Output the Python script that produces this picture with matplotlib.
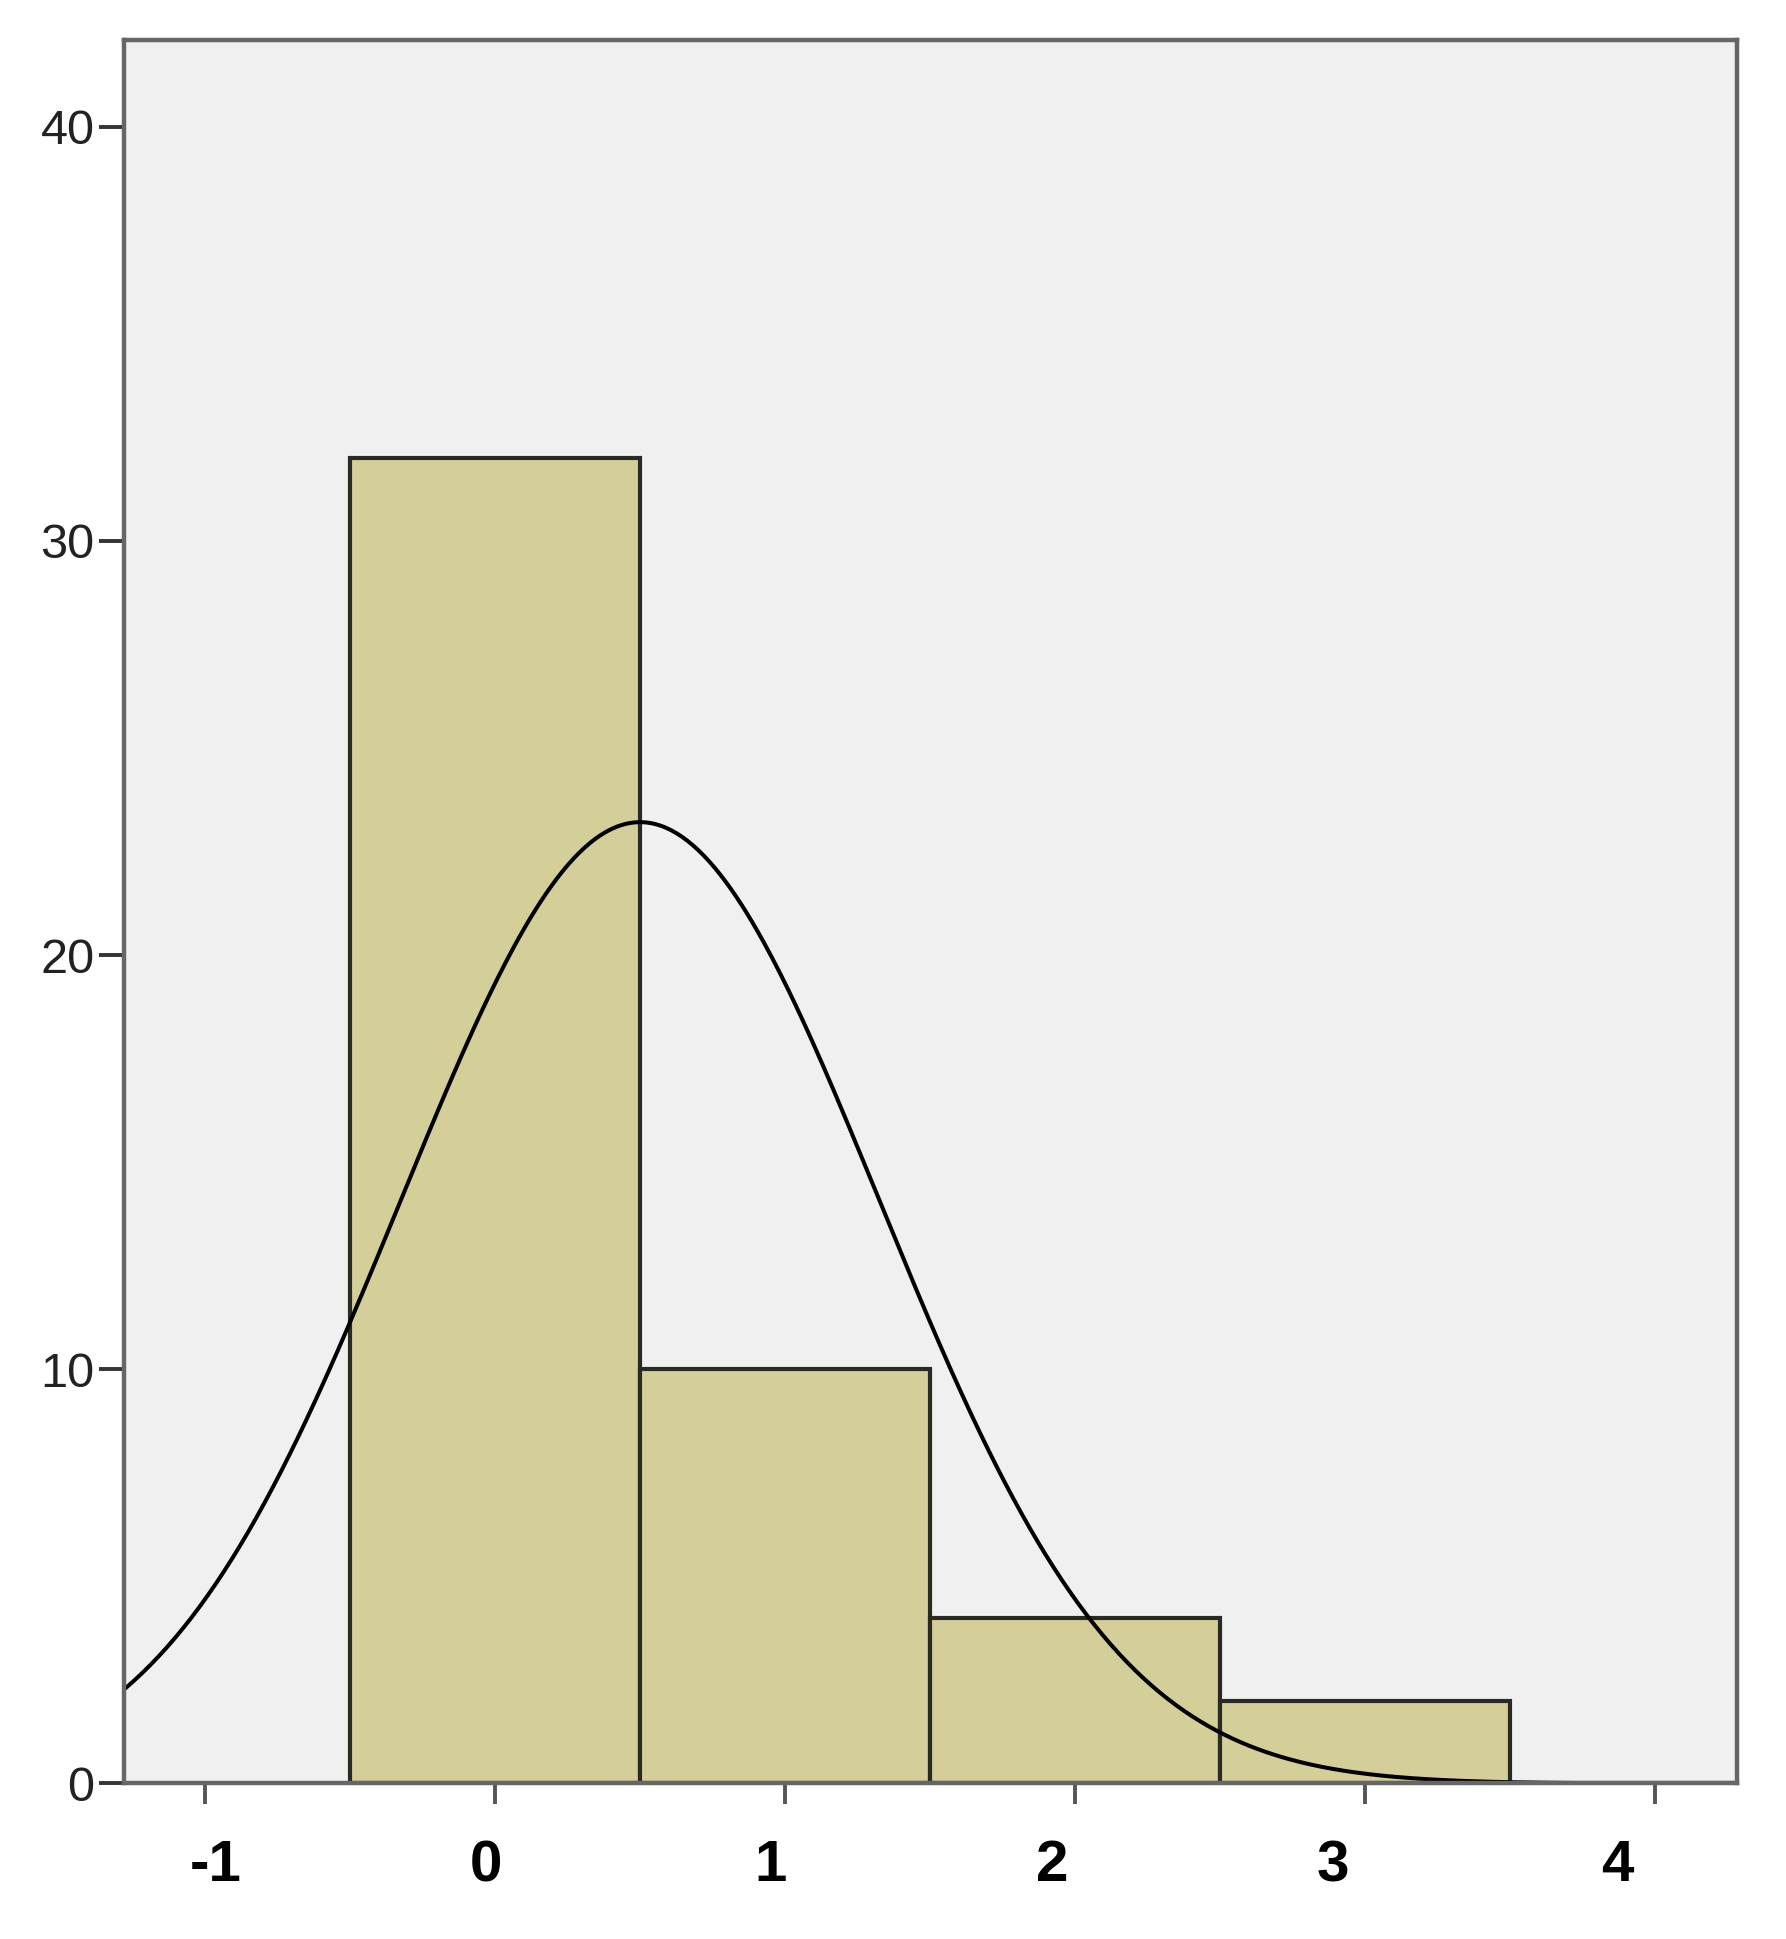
import numpy as np
import matplotlib
matplotlib.use("Agg")
import matplotlib.pyplot as plt
from matplotlib.transforms import ScaledTranslation

# ---- data ----
bin_centers = [0, 1, 2, 3, 4]
counts = [32, 10, 4, 2, 0]
x_ticks = [-1, 0, 1, 2, 3, 4]
x_tick_labels = ["-1", "0", "1", "2", "3", "4"]
y_ticks = [0, 10, 20, 30, 40]
y_tick_labels = ["0", "10", "20", "30", "40"]

# ---- figure ----
W, H, DPI = 1786, 1939, 100
fig = plt.figure(figsize=(W / DPI, H / DPI), dpi=DPI, facecolor="white")
ax = fig.add_axes([0.0693, 0.0802, 0.9030, 0.8994])
ax.set_facecolor("#f0f0f0")

bin_width = 1.0
ax.bar(bin_centers, counts, width=bin_width, color="#d4cf98",
       edgecolor="#2a2a25", linewidth=3.0, zorder=2)

# fitted normal curve from the histogram data
vals = np.repeat(np.array(bin_centers, dtype=float), counts)
mu = vals.mean()
sd = vals.std(ddof=1)
xs = np.linspace(-1.3, 4.3, 600)
ys = len(vals) * bin_width / (sd * np.sqrt(2 * np.pi)) * np.exp(-0.5 * ((xs - mu) / sd) ** 2)
ax.plot(xs, ys, color="black", linewidth=2.9, zorder=3)

ax.set_xlim(-1.28, 4.28)
ax.set_ylim(0, 42.1)

for s in ax.spines.values():
    s.set_color("#666666")
    s.set_linewidth(3.2)
    s.set_zorder(4)

ax.set_yticks(y_ticks)
ax.set_yticklabels(y_tick_labels, fontsize=35, color="#222222",
                   family=["Liberation Sans Narrow", "Liberation Sans", "DejaVu Sans"])
ax.tick_params(axis="y", direction="out", length=18, width=2.8, color="#333333", pad=3)

ax.set_xticks(x_ticks)
ax.set_xticklabels(x_tick_labels, fontsize=42, fontweight="bold", color="black",
                   family=["Liberation Sans", "DejaVu Sans"])
ax.tick_params(axis="x", direction="out", length=15, width=2.8, color="#555555", pad=25)

# small horizontal offsets of the x labels as in the reference image
label_shift_px = [11, -9, -15, -23, -32, -38]
for lab, dx in zip(ax.get_xticklabels(), label_shift_px):
    lab.set_transform(lab.get_transform() + ScaledTranslation(dx / DPI, 0, fig.dpi_scale_trans))

fig.savefig("out.png", dpi=DPI, facecolor="white")
